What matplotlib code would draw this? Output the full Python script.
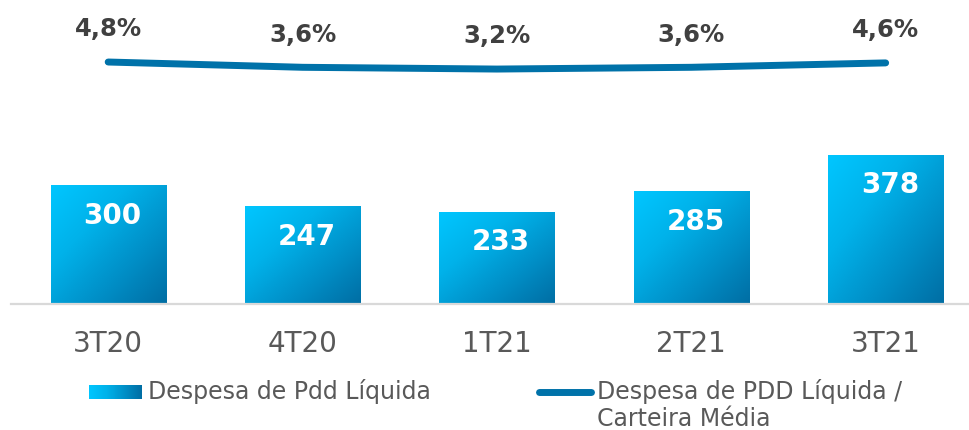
import numpy as np
import matplotlib
matplotlib.use("Agg")
import matplotlib.pyplot as plt
from matplotlib.colors import LinearSegmentedColormap
from matplotlib.lines import Line2D

quarters = ["3T20", "4T20", "1T21", "2T21", "3T21"]
pdd_liquida = [300, 247, 233, 285, 378]
pdd_carteira = [4.8, 3.6, 3.2, 3.6, 4.6]
bar_labels = ["300", "247", "233", "285", "378"]
pct_labels = ["4,8%", "3,6%", "3,2%", "3,6%", "4,6%"]
legend_bar = "Despesa de Pdd Líquida"
legend_line = ["Despesa de PDD Líquida /", "Carteira Média"]

plt.rcParams["font.family"] = ["DejaVu Sans"]

grad_cmap = LinearSegmentedColormap.from_list(
    "pdd", ["#00c6ff", "#00b2ea", "#0090c8", "#006ea4"])
line_color = "#0072a9"
text_gray = "#595959"
label_gray = "#404040"

W, H = 970, 430
fig = plt.figure(figsize=(W / 100, H / 100), dpi=100)
ax = fig.add_axes([11 / W, (H - 303.5) / H, 959 / W, 303.5 / H])
ax2 = ax.twinx()

x = np.arange(len(quarters))
bars = ax.bar(x, pdd_liquida, width=0.592, color="none", edgecolor="none")

# diagonal gradient, light top-left to dark bottom-right
n = 64
gi, gj = np.mgrid[0:n, 0:n] / (n - 1)
grad = (gi + gj) / 2
for b in bars:
    x0, w, h = b.get_x(), b.get_width(), b.get_height()
    im = ax.imshow(grad, cmap=grad_cmap, extent=[x0, x0 + w, 0, h], origin="upper",
                   aspect="auto", vmin=0, vmax=1, zorder=2)
    im.set_clip_path(b)

for xi, v, lab in zip(x, pdd_liquida, bar_labels):
    ax.annotate(lab, (xi, v), xytext=(3, -22), textcoords="offset points",
                ha="center", va="center", color="white", fontsize=20,
                fontweight="bold", zorder=5)

ax.set_xlim(-0.5, 4.434)
ax.set_ylim(0, 770)
ax.set_xticks(x)
ax.set_xticklabels(quarters, fontsize=20, color=text_gray)
ax.tick_params(axis="x", length=0, pad=19)
ax.set_yticks([])
for s in ["top", "left", "right"]:
    ax.spines[s].set_visible(False)
    ax2.spines[s].set_visible(False)
ax2.spines["bottom"].set_visible(False)
ax.spines["bottom"].set_color("#d9d9d9")
ax.spines["bottom"].set_linewidth(1.6)

ax2.plot(x, pdd_carteira, color=line_color, lw=5, solid_capstyle="round",
         solid_joinstyle="round")
for xi, v, lab in zip(x, pdd_carteira, pct_labels):
    ax2.annotate(lab, (xi, v), xytext=(0, 23.5), textcoords="offset points",
                 ha="center", va="center", color=label_gray, fontsize=17.5,
                 fontweight="bold")
ax2.set_ylim(-50.1, 18.9)
ax2.set_yticks([])

# legend, drawn by hand
lax = fig.add_axes([89 / W, 1 - 399 / H, 53 / W, 14 / H])
lax.imshow(np.linspace(0, 1, 64)[None, :], cmap=grad_cmap, aspect="auto")
lax.set_axis_off()
fig.text(148 / W, 1 - 392 / H, legend_bar, fontsize=17, color=text_gray,
         ha="left", va="center")
fig.add_artist(Line2D([539 / W, 591 / W], [1 - 392 / H, 1 - 392 / H],
                      transform=fig.transFigure, color=line_color, lw=5,
                      solid_capstyle="round"))
fig.text(597 / W, 1 - 391 / H, legend_line[0], fontsize=17, color=text_gray,
         ha="left", va="center")
fig.text(597 / W, 1 - 426 / H, legend_line[1], fontsize=17, color=text_gray,
         ha="left", va="baseline")

fig.savefig("out.png", dpi=100)
